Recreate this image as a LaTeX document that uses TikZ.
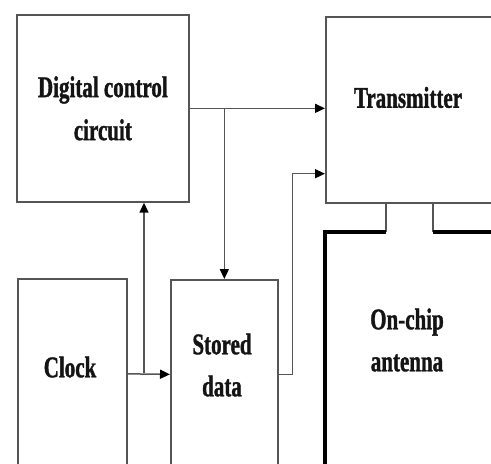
\documentclass[tikz,border=0pt]{standalone}
\usepackage{fontspec}
\setmainfont{Liberation Serif}
\newfontfamily\blockfont[FakeStretch=0.7, BoldFeatures={FakeBold=1.2}]{Liberation Serif}
\usepackage{tikz}
\usetikzlibrary{arrows.meta, positioning, calc}
\usepackage{xcolor}
\definecolor{LN}{RGB}{85,85,85}
\definecolor{TX}{RGB}{20,20,20}

\begin{document}
\begin{tikzpicture}[x=1pt, y=-1pt,
  box/.style={draw=LN, line width=1.7pt, inner sep=0pt, anchor=north west,
              minimum width=#1, align=center, text=TX,
              font=\blockfont\bfseries\fontsize{30}{43}\selectfont},
  lbl/.style={text=TX, align=center, inner sep=0pt,
              font=\blockfont\bfseries\fontsize{30}{42}\selectfont},
  arr/.style={-{Triangle[length=10pt, width=9pt, color=black]}, draw=LN, line width=1.5pt},
  wire/.style={draw=LN, line width=1.5pt},
  rim/.style={draw=black, line width=4pt}
]
\useasboundingbox (0,0) rectangle (491,464);
\clip (0,0) rectangle (491,464);

\node[box=172pt, minimum height=187pt] (dcc)    at (16,14)  {Digital control\\circuit};
\node[box=175pt, minimum height=186pt] (tx)     at (325,16) {};
\node[box=109pt, minimum height=190pt] (clock)  at (17,278) {};
\node[box=107pt, minimum height=189pt] (stored) at (170,279){};
\node[box=180pt, minimum height=250pt, draw=none] (ant) at (325,232) {};

\node[lbl] (txname)    at (408,97.5) {Transmitter};
\node[lbl] (clockname) at (70,367)   {Clock};
\node[lbl] (storename) at (222,365)  {Stored\\data};
\node[lbl] (antname)   at (407,340)  {On-chip\\antenna};

\coordinate (tap) at (144,373);

% control and clock paths
\draw[arr] (dcc.east) -- (dcc.east -| tx.west);
\draw[arr] (dcc.east -| stored.north) -- (stored.north);
\draw[arr] (clock.east) -- (stored.west);
\draw[arr] (tap) -- (tap |- dcc.south);
\draw[arr] (stored.east) -- ++(14,0) |- ([yshift=30pt]tx.south west);

% antenna feed
\draw[wire] ([xshift=61pt]tx.south west)  -- ([xshift=61pt]ant.north west);
\draw[wire] ([xshift=108pt]tx.south west) -- ([xshift=108pt]ant.north west);
\draw[rim] ([xshift=61pt]ant.north west) -- (ant.north west) -- (ant.south west);
\draw[rim] ([xshift=108pt]ant.north west) -- (ant.north east);
\end{tikzpicture}
\end{document}
